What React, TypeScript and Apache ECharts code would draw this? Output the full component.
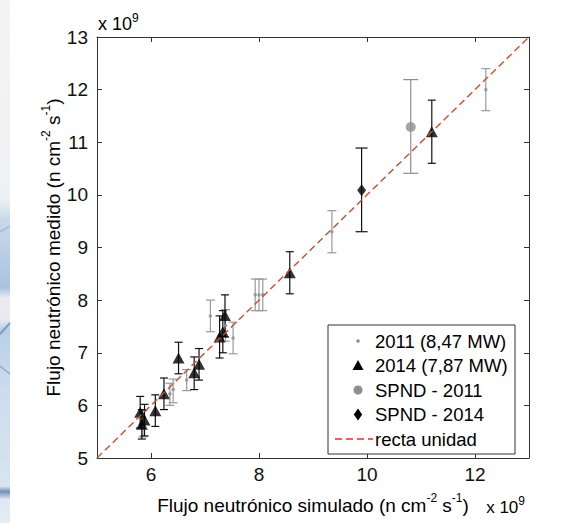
import React, { useEffect, useRef } from "react";
import * as echarts from "echarts";

// ---- data (units of 1e9 n cm^-2 s^-1) ----
const x2011 = [12.2, 9.35, 7.93, 8.0, 8.07, 7.1, 7.38, 7.52, 6.66, 6.41, 6.35, 5.85];
const y2011 = [12.0, 9.3, 8.1, 8.1, 8.1, 7.7, 7.52, 7.28, 6.48, 6.3, 6.22, 5.65];
const lo2011 = [11.6, 8.9, 7.8, 7.8, 7.8, 7.4, 7.22, 6.98, 6.28, 6.05, 6.0, 5.4];
const hi2011 = [12.4, 9.7, 8.4, 8.4, 8.4, 8.0, 7.82, 7.58, 6.68, 6.5, 6.42, 5.9];

const x2014 = [11.2, 8.57, 7.37, 7.33, 7.27, 6.51, 6.89, 6.8, 6.24, 6.08, 5.8, 5.88, 5.83];
const y2014 = [11.2, 8.52, 7.71, 7.4, 7.3, 6.9, 6.78, 6.62, 6.22, 5.9, 5.87, 5.72, 5.64];
const lo2014 = [10.6, 8.12, 7.3, 7.0, 6.9, 6.6, 6.48, 6.3, 5.92, 5.6, 5.57, 5.42, 5.36];
const hi2014 = [11.8, 8.92, 8.1, 7.8, 7.7, 7.2, 7.08, 6.92, 6.52, 6.2, 6.17, 6.02, 5.92];

const xSpnd2011 = [10.81];
const ySpnd2011 = [11.29];
const loSpnd2011 = [10.41];
const hiSpnd2011 = [12.19];

const xSpnd2014 = [9.9];
const ySpnd2014 = [10.09];
const loSpnd2014 = [9.3];
const hiSpnd2014 = [10.89];

const unitLine = [5, 13];
const xTicks = [6, 8, 10, 12];
const legendNames = ["2011 (8,47 MW)", "2014 (7,87 MW)", "SPND - 2011", "SPND - 2014", "recta unidad"];

const FONT = "'Liberation Sans', Arial, sans-serif";
const GRAY = "#8e8e8e";
const BLACK = "#000000";
const RED = "#d14b2c";

const rows = (xs: number[], ys: number[], lo: number[], hi: number[]) =>
  xs.map((x, i) => [x, ys[i], lo[i], hi[i]]);

const errRender = (half: number, color: string) => (_p: any, api: any) => {
  const x = api.value(0);
  const a = api.coord([x, api.value(2)]);
  const b = api.coord([x, api.value(3)]);
  const style = { stroke: color, lineWidth: 1.2, fill: "none" };
  return {
    type: "group",
    children: [
      { type: "line", shape: { x1: a[0], y1: a[1], x2: b[0], y2: b[1] }, style },
      { type: "line", shape: { x1: a[0] - half, y1: a[1], x2: a[0] + half, y2: a[1] }, style },
      { type: "line", shape: { x1: b[0] - half, y1: b[1], x2: b[0] + half, y2: b[1] }, style },
    ],
  };
};

const errSeries = (data: number[][], half: number, color: string) => ({
  type: "custom",
  renderItem: errRender(half, color),
  data,
  encode: { x: 0, y: [1, 2, 3] },
  silent: true,
  z: 2,
});

export default function App() {
  const ref = useRef<HTMLDivElement>(null);
  useEffect(() => {
    const chart = echarts.init(ref.current!, null, { renderer: "svg" });
    const axisLine = { show: true, lineStyle: { color: "#333", width: 1 } };
    const tick = { show: true, inside: true, length: 5, lineStyle: { color: "#333" } };
    const labelStyle = { color: "#111", fontSize: 19, fontFamily: FONT };
    const supRich = { sup: { fontSize: 12, lineHeight: 12, verticalAlign: "top", fontFamily: FONT, color: "#000" } };

    const legendY = [341, 365.5, 390, 414.5, 439];
    const lx = 358;

    chart.setOption({
      animation: false,
      backgroundColor: "#ffffff",
      grid: { left: 97, right: 42, top: 37, bottom: 57 },
      xAxis: [
        {
          type: "value",
          min: 5,
          max: 13,
          position: "bottom",
          axisLine,
          axisTick: { ...tick, customValues: xTicks },
          axisLabel: { ...labelStyle, margin: 7, customValues: xTicks },
          splitLine: { show: false },
          name: "Flujo neutrónico simulado (n cm{sup|-2} s{sup|-1})",
          nameLocation: "middle",
          nameGap: 34,
          nameMoveOverlap: false,
          nameTextStyle: { color: "#000", fontSize: 19, fontFamily: FONT, lineHeight: 26, rich: supRich },
        },
        {
          type: "value",
          min: 5,
          max: 13,
          position: "top",
          axisLine,
          axisTick: { ...tick, customValues: xTicks },
          axisLabel: { show: false },
          splitLine: { show: false },
        },
      ],
      yAxis: [
        {
          type: "value",
          min: 5,
          max: 13,
          interval: 1,
          position: "left",
          axisLine,
          axisTick: tick,
          axisLabel: { ...labelStyle, margin: 9 },
          splitLine: { show: false },
          name: "Flujo neutrónico medido (n cm{sup|-2} s{sup|-1})",
          nameLocation: "middle",
          nameGap: 31,
          nameMoveOverlap: false,
          nameTextStyle: { color: "#000", fontSize: 19, fontFamily: FONT, lineHeight: 26, rich: supRich },
        },
        {
          type: "value",
          min: 5,
          max: 13,
          interval: 1,
          position: "right",
          axisLine,
          axisTick: tick,
          axisLabel: { show: false },
          splitLine: { show: false },
        },
      ],
      series: [
        errSeries(rows(x2011, y2011, lo2011, hi2011), 4.5, "#9a9a9a"),
        {
          name: legendNames[0],
          type: "scatter",
          data: x2011.map((x, i) => [x, y2011[i]]),
          symbol: "circle",
          symbolSize: 3.5,
          itemStyle: { color: GRAY },
          z: 3,
        },
        errSeries(rows(x2014, y2014, lo2014, hi2014), 4, "#111"),
        {
          name: legendNames[1],
          type: "scatter",
          data: x2014.map((x, i) => [x, y2014[i]]),
          symbol: "triangle",
          symbolSize: [12, 11],
          itemStyle: { color: BLACK },
          z: 4,
        },
        errSeries(rows(xSpnd2011, ySpnd2011, loSpnd2011, hiSpnd2011), 7.5, GRAY),
        {
          name: legendNames[2],
          type: "scatter",
          data: xSpnd2011.map((x, i) => [x, ySpnd2011[i]]),
          symbol: "circle",
          symbolSize: 10,
          itemStyle: { color: GRAY },
          z: 4,
        },
        errSeries(rows(xSpnd2014, ySpnd2014, loSpnd2014, hiSpnd2014), 6, "#111"),
        {
          name: legendNames[3],
          type: "scatter",
          data: xSpnd2014.map((x, i) => [x, ySpnd2014[i]]),
          symbol: "diamond",
          symbolSize: [9, 12],
          itemStyle: { color: BLACK },
          z: 4,
        },
        {
          name: legendNames[4],
          type: "line",
          data: unitLine.map((v) => [v, v]),
          showSymbol: false,
          symbol: "none",
          lineStyle: { color: RED, width: 1.4, type: [7, 4] },
          z: 5,
          silent: true,
        },
      ],
      graphic: [
        // decorative left strip
        {
          type: "rect",
          shape: { x: 0, y: 0, width: 10, height: 523 },
          style: {
            fill: {
              type: "linear", x: 0, y: 0, x2: 0, y2: 1,
              colorStops: [
                { offset: 0, color: "#f4f4f5" },
                { offset: 0.38, color: "#eef1f4" },
                { offset: 0.42, color: "#c9d9ea" },
                { offset: 0.55, color: "#aac3de" },
                { offset: 0.57, color: "#ecebf1" },
                { offset: 0.61, color: "#eae9ef" },
                { offset: 0.63, color: "#b9cfe6" },
                { offset: 0.75, color: "#cddcee" },
                { offset: 0.93, color: "#d7e4f1" },
                { offset: 0.94, color: "#7190b9" },
                { offset: 0.955, color: "#dfe8f2" },
                { offset: 1, color: "#e4ecf4" },
              ],
            },
          },
          silent: true,
        },
        { type: "line", shape: { x1: 0, y1: 334, x2: 10, y2: 323 }, style: { stroke: "#7c9cc3", lineWidth: 2 }, silent: true },
        { type: "line", shape: { x1: 0, y1: 366, x2: 10, y2: 374 }, style: { stroke: "#8eaacd", lineWidth: 1.5 }, silent: true },
        { type: "line", shape: { x1: 0, y1: 232, x2: 10, y2: 226 }, style: { stroke: "#a7c0dc", lineWidth: 2 }, silent: true },
        // multipliers
        {
          type: "text",
          style: {
            text: "x 10{sup|9}", x: 98, y: 24, verticalAlign: "middle", align: "left",
            fontSize: 18, fontFamily: FONT, fill: "#000", lineHeight: 24, rich: supRich,
          },
        },
        {
          type: "text",
          style: {
            text: "x 10{sup|9}", x: 525, y: 507, verticalAlign: "middle", align: "right",
            fontSize: 17, fontFamily: FONT, fill: "#000", lineHeight: 24, rich: supRich,
          },
        },
        // legend
        {
          type: "rect",
          shape: { x: 328, y: 325, width: 187, height: 129 },
          style: { fill: "#fff", stroke: "#333", lineWidth: 1 },
          z: 10,
        },
        { type: "circle", shape: { cx: lx, cy: legendY[0], r: 1.8 }, style: { fill: GRAY }, z: 11 },
        {
          type: "polygon",
          shape: { points: [[lx, legendY[1] - 5.5], [lx - 5.5, legendY[1] + 4.5], [lx + 5.5, legendY[1] + 4.5]] },
          style: { fill: BLACK }, z: 11,
        },
        { type: "circle", shape: { cx: lx, cy: legendY[2], r: 4.5 }, style: { fill: GRAY }, z: 11 },
        {
          type: "polygon",
          shape: { points: [[lx, legendY[3] - 6], [lx + 4.2, legendY[3]], [lx, legendY[3] + 6], [lx - 4.2, legendY[3]]] },
          style: { fill: BLACK }, z: 11,
        },
        {
          type: "line",
          shape: { x1: 335, y1: legendY[4], x2: 373, y2: legendY[4] },
          style: { stroke: "#e0302a", lineWidth: 1.4, lineDash: [7, 4] }, z: 11,
        },
        ...legendNames.map((n, i) => ({
          type: "text",
          z: 11,
          style: {
            text: n, x: 375, y: legendY[i], verticalAlign: "middle", align: "left",
            fontSize: 18.5, fontFamily: FONT, fill: "#000",
          },
        })),
      ],
    });
    return () => chart.dispose();
  }, []);
  return (
    <div
      ref={ref}
      style={{ position: "fixed", left: 0, top: 0, width: 571, height: 523, background: "#fff" }}
    />
  );
}
